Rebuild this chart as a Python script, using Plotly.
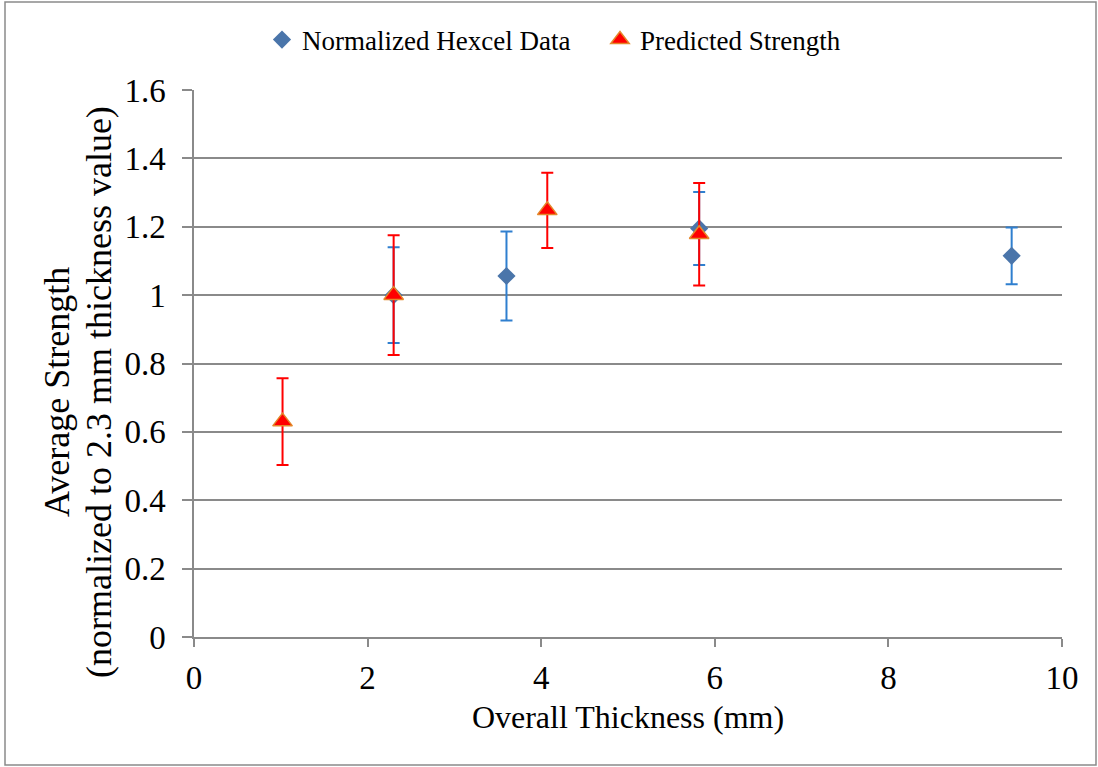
import plotly.graph_objects as go

# Data
hex_x = [2.3, 3.6, 5.82, 9.42]
hex_y = [1.0, 1.056, 1.195, 1.115]
hex_err = [0.14, 0.13, 0.107, 0.083]

pred_x = [1.02, 2.3, 4.07, 5.82]
pred_y = [0.63, 1.0, 1.248, 1.178]
pred_err = [0.127, 0.175, 0.11, 0.15]

x_title = "Overall Thickness (mm)"
y_title_1 = "Average Strength"
y_title_2 = "(normalized to 2.3 mm thickness value)"

FONT = "Liberation Serif"
GRID = "#8a8a8a"

# plot area in pixels
L, T, W, H = 194, 90, 868, 547


def px_x(p):
    return (p - L) / W


def px_y(p):
    return (T + H - p) / H


fig = go.Figure()
fig.add_trace(go.Scatter(
    x=hex_x, y=hex_y, mode="markers", name="Normalized Hexcel Data",
    marker=dict(symbol="diamond", size=14, color="#4a75aa"),
    error_y=dict(type="data", array=hex_err, visible=True, color="#2f7fcf",
                 thickness=2, width=6),
    legend="legend",
))
fig.add_trace(go.Scatter(
    x=pred_x, y=pred_y, mode="markers", name="Predicted Strength",
    marker=dict(symbol="triangle-up", size=17, color="#ff0000",
                line=dict(color="#e4882a", width=1.5)),
    error_y=dict(type="data", array=pred_err, visible=True, color="#ff0000",
                 thickness=2, width=6),
    legend="legend2",
))

legend_common = dict(orientation="h", yanchor="middle", y=px_y(40),
                     font=dict(family=FONT, size=27, color="black"),
                     itemwidth=30, bgcolor="rgba(0,0,0,0)")

fig.update_layout(
    width=1098, height=767,
    margin=dict(l=L, r=1098 - L - W, t=T, b=767 - T - H, autoexpand=False),
    paper_bgcolor="white", plot_bgcolor="white",
    font=dict(family=FONT, color="black", size=28),
    showlegend=True,
    legend=dict(x=px_x(262), xanchor="left", **legend_common),
    legend2=dict(x=px_x(600), xanchor="left", **legend_common),
    xaxis=dict(range=[0, 10], dtick=2, tick0=0, showgrid=False,
               showline=True, linecolor=GRID, linewidth=1.5,
               ticks="outside", ticklen=8, tickcolor=GRID, tickwidth=1.5,
               ticklabelstandoff=3,
               tickfont=dict(family=FONT, size=33, color="black"),
               title=dict(text=x_title,
                          font=dict(family=FONT, size=32, color="black"), standoff=10),
               zeroline=False),
    yaxis=dict(range=[0, 1.6], dtick=0.2, tick0=0, showgrid=True,
               gridcolor=GRID, gridwidth=1.5,
               showline=True, linecolor=GRID, linewidth=1.5,
               ticks="outside", ticklen=10, tickcolor=GRID, tickwidth=1.5,
               ticklabelstandoff=10,
               tickfont=dict(family=FONT, size=33, color="black"),
               zeroline=False),
)

# y-axis title (two lines, slightly below centre as in the reference)
for txt, cx in ((y_title_1, 57), (y_title_2, 99)):
    fig.add_annotation(text=txt, xref="paper", yref="paper",
                       x=px_x(cx), y=px_y(392), xanchor="center", yanchor="middle",
                       textangle=-90, showarrow=False,
                       font=dict(family=FONT, size=36, color="black"))

# outer chart border
fig.add_shape(type="rect", xref="paper", yref="paper",
              x0=px_x(5), x1=px_x(1096), y0=px_y(765), y1=px_y(2),
              line=dict(color="#8a8a8a", width=1.5), layer="below")

fig.write_html("out.html")
